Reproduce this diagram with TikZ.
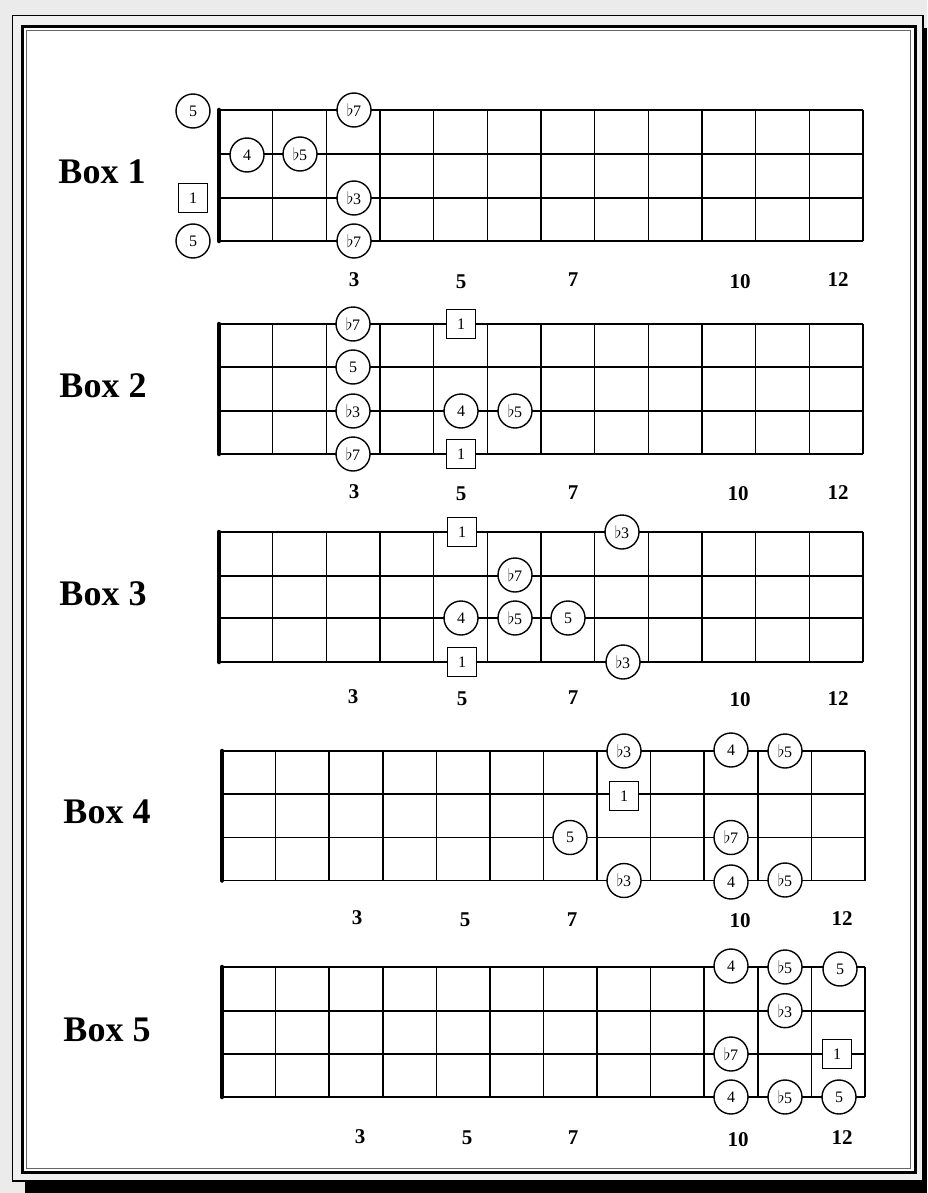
\documentclass[tikz,border=0pt]{standalone}
\usepackage{fontspec}
\setmainfont{Liberation Serif}
\newcommand\fl{$\flat$\kern-0.3pt}
\newcommand\fboard[6]{%
  \pgfmathsetmacro\fsp{(#2-#1)/12}%
  \foreach \yy in {#3,#4,#5,#6} \draw[fstring] (#1,\yy) -- (#2,\yy);
  \foreach \i in {1,...,12} \draw[fstring] ({#1+\i*\fsp},#3) -- ({#1+\i*\fsp},#6);
  \draw[fnut] (#1,#3) -- (#1,#6);
}
\begin{document}
\begin{tikzpicture}[x=1pt,y=-1pt,
  note/.style={circle,draw,line width=1.4pt,fill=white,minimum size=34pt,inner sep=0pt,font=\fontsize{16}{16}\selectfont},
  root/.style={rectangle,draw,line width=1.4pt,fill=white,minimum size=29pt,inner sep=0pt,font=\fontsize{16}{16}\selectfont},
  boxlabel/.style={font=\fontsize{36}{36}\selectfont\bfseries},
  fretnum/.style={font=\fontsize{21}{21}\selectfont\bfseries},
  fstring/.style={line width=1.6pt},
  fnut/.style={line width=4.5pt,line cap=round}]
\useasboundingbox (0,0) rectangle (927,1193);
% frame
\fill[black!8] (0,0) rectangle (927,1193);
\fill[black] (25,28) rectangle (927,1193);
\filldraw[fill=black!6,draw=black,line width=1.2pt] (12.5,15.5) rectangle (923,1181);
\fill[white] (22.5,26.5) rectangle (915.5,1172.5);
\draw[line width=3.2pt] (22.5,26.5) rectangle (915.5,1172.5);
\draw[line width=0.9pt,black!60] (26.8,30.8) rectangle (910.5,1168);

% ---------- Box 1 ----------
\node[boxlabel] (L1) at (102,172) {Box 1};
\fboard{219}{863}{110}{154}{198}{241}
\node[note] (a1) at (193,111) {5};
\node[note] (a2) at (247,155) {4};
\node[note] (a3) at (300,154) {\fl5};
\node[note] (a4) at (354,110) {\fl7};
\node[note] (a5) at (354,198) {\fl3};
\node[note] (a6) at (354,241) {\fl7};
\node[root] (a7) at (193,198) {1};
\node[note] (a8) at (193,241) {5};
\node[fretnum] (f13) at (354,280) {3};
\node[fretnum] (f15) at (461,282) {5};
\node[fretnum] (f17) at (573,280) {7};
\node[fretnum] (f110) at (740,282) {10};
\node[fretnum] (f112) at (838,280) {12};

% ---------- Box 2 ----------
\node[boxlabel] (L2) at (103,386) {Box 2};
\fboard{219}{863}{324}{367}{411}{454}
\node[note] (b1) at (353,324) {\fl7};
\node[note] (b2) at (353,367) {5};
\node[note] (b3) at (353,411) {\fl3};
\node[note] (b4) at (353,454) {\fl7};
\node[root] (b5) at (461,324) {1};
\node[note] (b6) at (461,411) {4};
\node[note] (b7) at (515,411) {\fl5};
\node[root] (b8) at (461,454) {1};
\node[fretnum] (f23) at (354,492) {3};
\node[fretnum] (f25) at (461,494) {5};
\node[fretnum] (f27) at (573,493) {7};
\node[fretnum] (f210) at (738,494) {10};
\node[fretnum] (f212) at (838,493) {12};

% ---------- Box 3 ----------
\node[boxlabel] (L3) at (103,594) {Box 3};
\fboard{219}{863}{532}{576}{618}{662}
\node[root] (c1) at (462,532) {1};
\node[note] (c2) at (622,532) {\fl3};
\node[note] (c3) at (515,575) {\fl7};
\node[note] (c4) at (461,618) {4};
\node[note] (c5) at (515,618) {\fl5};
\node[note] (c6) at (568,618) {5};
\node[root] (c7) at (462,662) {1};
\node[note] (c8) at (623,662) {\fl3};
\node[fretnum] (f33) at (353,697) {3};
\node[fretnum] (f35) at (462,699) {5};
\node[fretnum] (f37) at (573,698) {7};
\node[fretnum] (f310) at (740,700) {10};
\node[fretnum] (f312) at (838,699) {12};

% ---------- Box 4 ----------
\node[boxlabel] (L4) at (107,812) {Box 4};
\fboard{222}{865}{751}{794}{837.5}{880.5}
\node[note] (d1) at (624,751) {\fl3};
\node[note] (d2) at (731,750) {4};
\node[note] (d3) at (785,751) {\fl5};
\node[root] (d4) at (624,796) {1};
\node[note] (d5) at (570,837.5) {5};
\node[note] (d6) at (731,837.5) {\fl7};
\node[note] (d7) at (624,880.5) {\fl3};
\node[note] (d8) at (731,882) {4};
\node[note] (d9) at (785,880) {\fl5};
\node[fretnum] (f43) at (357,918) {3};
\node[fretnum] (f45) at (465,920) {5};
\node[fretnum] (f47) at (572,920) {7};
\node[fretnum] (f410) at (740,921) {10};
\node[fretnum] (f412) at (842,919) {12};

% ---------- Box 5 ----------
\node[boxlabel] (L5) at (107,1030) {Box 5};
\fboard{222}{865}{967}{1010.7}{1054}{1097}
\node[note] (e1) at (731,966) {4};
\node[note] (e2) at (785,967) {\fl5};
\node[note] (e3) at (840,969) {5};
\node[note] (e4) at (785,1010.7) {\fl3};
\node[note] (e5) at (731,1054) {\fl7};
\node[root] (e6) at (837,1054) {1};
\node[note] (e7) at (731,1097) {4};
\node[note] (e8) at (785,1097) {\fl5};
\node[note] (e9) at (839,1097) {5};
\node[fretnum] (f53) at (360,1137) {3};
\node[fretnum] (f55) at (467,1138) {5};
\node[fretnum] (f57) at (573,1138) {7};
\node[fretnum] (f510) at (738,1140) {10};
\node[fretnum] (f512) at (842,1138) {12};
\end{tikzpicture}
\end{document}
